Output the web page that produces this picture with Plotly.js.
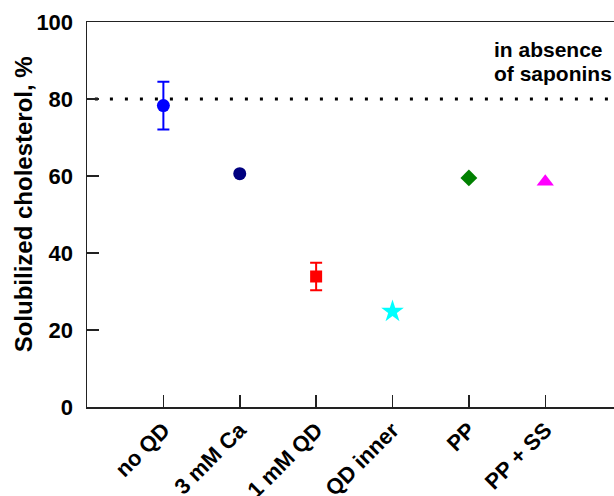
<!DOCTYPE html>
<html><head><meta charset="utf-8">
<script src="https://cdn.plot.ly/plotly-3.0.1.min.js"></script>
<style>html,body{margin:0;padding:0;background:#fff}</style>
</head><body><div id="chart" style="width:614px;height:496px"></div>
<script>
const categories = ["no QD", "3 mM Ca", "1 mM QD", "QD inner", "PP", "PP + SS"];
const values = [78.3, 60.6, 33.9, 24.8, 59.5, 58.5];
const errors = [6.2, null, 3.6, null, null, null];
const colors = ["#0000ff", "#000080", "#ff0000", "#00ffff", "#008000", "#ff00ff"];
const symbols = ["circle", "circle", "square", "star", "diamond", "triangle-up"];
const sizes = [13, 13, 12, 17, 13, 15];
const refValue = 80;
const yTicks = [0, 20, 40, 60, 80, 100];
const yTitle = "Solubilized cholesterol, %";
const noteLines = ["in absence", "of saponins"];

const traces = categories.map((c, i) => {
  const t = {
    x: [i], y: [values[i]], type: "scatter", mode: "markers",
    marker: {symbol: symbols[i], color: colors[i], size: sizes[i], line: {width: 0}},
    showlegend: false, hoverinfo: "skip"
  };
  if (errors[i] !== null) {
    t.error_y = {type: "data", array: [errors[i]], visible: true, color: colors[i], thickness: 2, width: 6};
  }
  return t;
});

const ff = "Liberation Sans, Arial, sans-serif";
const layout = {
  width: 614, height: 496,
  margin: {l: 87, r: 0, t: 22, b: 89},
  paper_bgcolor: "#fff", plot_bgcolor: "#fff",
  font: {family: ff, color: "#000"},
  xaxis: {
    range: [-1, 5.9],
    tickmode: "array", tickvals: categories.map((c, i) => i), ticktext: categories.map(c => "<b>" + c + "</b>"),
    tickangle: -45, tickfont: {size: 22, family: ff, color: "#000"},
    ticks: "inside", ticklen: 12, tickwidth: 1.5, tickcolor: "#222",
    showline: true, linecolor: "#222", linewidth: 1.5, mirror: true,
    showgrid: false, zeroline: false
  },
  yaxis: {
    range: [0, 100],
    tickmode: "array", tickvals: yTicks, ticktext: yTicks.map(v => "<b>" + v + "</b>"),
    tickfont: {size: 22, family: ff, color: "#000"},
    ticks: "inside", ticklen: 12, tickwidth: 1.5, tickcolor: "#222",
    ticklabelstandoff: 8,
    showline: true, linecolor: "#222", linewidth: 1.5,
    showgrid: false, zeroline: false
  },
  shapes: [{
    type: "line", xref: "paper", x0: 0.015, x1: 1, yref: "y", y0: refValue, y1: refValue,
    line: {color: "#000", width: 3, dash: "3px,12px"}, layer: "below"
  }],
  annotations: [
    {
      xref: "paper", yref: "y", x: -0.121, y: 52.7, xanchor: "center", yanchor: "middle",
      textangle: -90, text: "<b>" + yTitle + "</b>", showarrow: false,
      font: {size: 24, family: ff, color: "#000"}
    },
    {
      xref: "x", yref: "y", x: 4.3, y: 92.9, xanchor: "left", yanchor: "middle", align: "left",
      text: "<b>" + noteLines[0] + "</b>", showarrow: false,
      font: {size: 21, family: ff, color: "#000"}
    },
    {
      xref: "x", yref: "y", x: 4.3, y: 86.6, xanchor: "left", yanchor: "middle", align: "left",
      text: "<b>" + noteLines[1] + "</b>", showarrow: false,
      font: {size: 21, family: ff, color: "#000"}
    }
  ]
};
Plotly.newPlot("chart", traces, layout, {staticPlot: true});
</script></body></html>
